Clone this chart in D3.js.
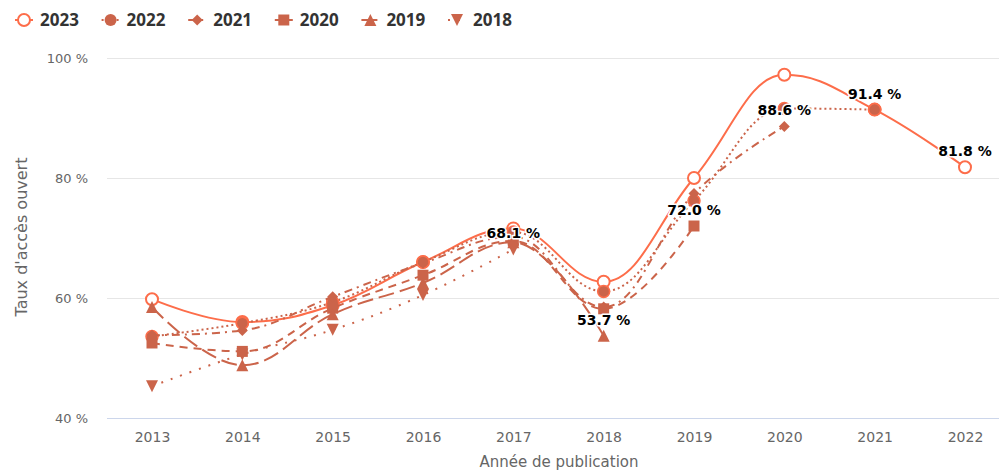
<!DOCTYPE html>
<html>
<head>
<meta charset="utf-8">
<script src="https://cdn.jsdelivr.net/npm/d3@7"></script>
<style>
  body { margin: 0; background: #fff; }
  svg { display: block; font-family: "DejaVu Sans", sans-serif; }
</style>
</head>
<body>
<script>
// set the dimensions and margins of the chart
var width = 999
var height = 473
var margin = { top: 58, left: 107, right: 0, bottom: 55 }

const years = [2013, 2014, 2015, 2016, 2017, 2018, 2019, 2020, 2021, 2022]
const yTicks = [40, 60, 80, 100]
const seriesNames = ['2023', '2022', '2021', '2020', '2019', '2018']

// open access rate (%) per publication year, one array per observation year
const s2023 = [59.8, 56.0, 58.8, 66.0, 71.6, 62.7, 80.0, 97.2, 91.4, 81.8]
const s2022 = [53.6, 55.8, 59.3, 66.0, 71.0, 61.1, 76.2, 91.6, 91.4]
const s2021 = [53.8, 54.6, 60.2, 65.8, 70.2, 58.5, 77.4, 88.6]
const s2020 = [52.5, 51.1, 58.3, 63.8, 69.5, 58.2, 72.0]
const s2019 = [58.5, 48.8, 57.3, 62.5, 69.3, 53.7]
const s2018 = [45.3, 50.6, 54.7, 60.5, 68.1]

const values = [s2023, s2022, s2021, s2020, s2019, s2018]
const colors = ['#fd6d4a', '#cb644a', '#cb644a', '#cb644a', '#cb644a', '#cb644a']
const dashes = ['none', '2,3', '8,5,2,5', '8,6', '16,6', '2,8']
const symbols = ['open', 'circle', 'diamond', 'square', 'triangle', 'triangle-down']

var svg = d3.select("body").append("svg")
    .attr("width", width)
    .attr("height", height);

var xScale = d3.scalePoint()
    .domain(years)
    .range([152, 965]);

var yScale = d3.scaleLinear()
    .domain([40, 100])
    .range([height - margin.bottom - 0, margin.top]);

// spline like the one Highcharts draws (smoothing 1.5, flat at extremes)
function hcSpline(context) {
    return {
        areaStart: function () {},
        areaEnd: function () {},
        lineStart: function () { this._p = []; },
        point: function (x, y) { this._p.push([+x, +y]); },
        lineEnd: function () {
            var p = this._p, n = p.length, lc = [], rc = [];
            var sm = 1.5, den = sm + 1;
            for (var i = 0; i < n; i++) {
                lc[i] = p[i].slice(); rc[i] = p[i].slice();
                if (i === 0 || i === n - 1) continue;
                var lx = p[i - 1][0], ly = p[i - 1][1], nx = p[i + 1][0], ny = p[i + 1][1];
                var px = p[i][0], py = p[i][1];
                var lcx = (sm * px + lx) / den, lcy = (sm * py + ly) / den;
                var rcx = (sm * px + nx) / den, rcy = (sm * py + ny) / den;
                if (rcx !== lcx) {
                    var corr = ((rcy - lcy) * (rcx - px)) / (rcx - lcx) + py - rcy;
                    lcy += corr; rcy += corr;
                }
                if (lcy > ly && lcy > py) { lcy = Math.max(ly, py); rcy = 2 * py - lcy; }
                else if (lcy < ly && lcy < py) { lcy = Math.min(ly, py); rcy = 2 * py - lcy; }
                if (rcy > ny && rcy > py) { rcy = Math.max(ny, py); lcy = 2 * py - rcy; }
                else if (rcy < ny && rcy < py) { rcy = Math.min(ny, py); lcy = 2 * py - rcy; }
                lc[i] = [lcx, lcy]; rc[i] = [rcx, rcy];
            }
            if (!n) return;
            context.moveTo(p[0][0], p[0][1]);
            for (var j = 1; j < n; j++) {
                context.bezierCurveTo(rc[j - 1][0], rc[j - 1][1], lc[j][0], lc[j][1], p[j][0], p[j][1]);
            }
        }
    };
}

function symbolPath(type, r) {
    var p = d3.path();
    if (type === 'open' || type === 'circle') {
        p.arc(0, 0, r, 0, 2 * Math.PI);
    } else if (type === 'square') {
        p.rect(-r, -r, 2 * r, 2 * r);
    } else if (type === 'diamond') {
        p.moveTo(0, -r); p.lineTo(r, 0); p.lineTo(0, r); p.lineTo(-r, 0); p.closePath();
    } else if (type === 'triangle') {
        p.moveTo(0, -r); p.lineTo(r, r); p.lineTo(-r, r); p.closePath();
    } else {
        p.moveTo(-r, -r); p.lineTo(r, -r); p.lineTo(0, r); p.closePath();
    }
    return p.toString();
}

function markerRadius(type) {
    if (type === 'diamond') return 5.5;
    if (type === 'square') return 5.5;
    return 6;
}

function renderGrid() {
    svg.append("g")
        .selectAll("line")
        .data(yTicks.slice(1))
        .enter()
        .append("line")
        .attr("x1", margin.left)
        .attr("x2", width)
        .attr("y1", d => yScale(d) + 0.5)
        .attr("y2", d => yScale(d) + 0.5)
        .style("stroke", "#e6e6e6");
}

function renderYAxis() {
    var yAxis = d3.axisLeft(yScale)
        .tickValues(yTicks)
        .tickSize(0)
        .tickPadding(0)
        .tickFormat(d => d + " %");

    var g = svg.append("g")
        .attr("class", "y-axis")
        .attr("transform", "translate(88,0)")
        .call(yAxis);
    g.select(".domain").remove();
    g.selectAll("text")
        .style("font-size", "13px")
        .style("fill", "#666666")
        .style("font-family", "DejaVu Sans");

    svg.append("text")
        .attr("transform", "translate(27," + 237 + ") rotate(-90)")
        .attr("text-anchor", "middle")
        .style("font-size", "16px")
        .style("fill", "#666666")
        .text("Taux d'accès ouvert");
}

function renderXAxis() {
    var xAxis = d3.axisBottom(xScale)
        .tickSize(0)
        .tickPadding(14);

    var g = svg.append("g")
        .attr("class", "x-axis")
        .attr("transform", "translate(0," + yScale(40) + ")")
        .call(xAxis);
    g.select(".domain")
        .attr("d", "M" + margin.left + ",0.5H" + width)
        .style("stroke", "#ccd6eb");
    g.selectAll("text")
        .style("font-size", "14px")
        .style("fill", "#666666")
        .style("font-family", "DejaVu Sans");

    svg.append("text")
        .attr("x", 559)
        .attr("y", 467)
        .attr("text-anchor", "middle")
        .style("font-size", "15px")
        .style("fill", "#666666")
        .text("Année de publication");
}

function renderSeries() {
    var line = d3.line()
        .x((d, i) => xScale(years[i]))
        .y(d => yScale(d))
        .curve(hcSpline);

    values.forEach(function (vals, k) {
        var g = svg.append("g").attr("class", "series-" + seriesNames[k]);
        g.append("path")
            .datum(vals)
            .attr("d", line)
            .style("fill", "none")
            .style("stroke", colors[k])
            .style("stroke-width", 2)
            .style("stroke-dasharray", dashes[k]);

        var type = symbols[k];
        g.selectAll(".marker")
            .data(vals)
            .enter()
            .append("path")
            .attr("class", "marker")
            .attr("transform", (d, i) => "translate(" + xScale(years[i]) + "," + yScale(d) + ")")
            .attr("d", symbolPath(type, markerRadius(type)))
            .style("fill", type === 'open' ? "#ffffff" : colors[k])
            .style("stroke", type === 'open' || type === 'circle' ? colors[0] : "none")
            .style("stroke-width", type === 'open' ? 2 : (type === 'circle' ? 1.5 : 0));
    });
}

function renderLabels() {
    values.forEach(function (vals, k) {
        var i = vals.length - 1;
        svg.append("text")
            .attr("x", xScale(years[i]))
            .attr("y", yScale(vals[i]) - 11)
            .attr("text-anchor", "middle")
            .style("font-size", "14px")
            .style("font-weight", "bold")
            .style("fill", "#000000")
            .style("stroke", "#ffffff")
            .style("stroke-width", 3)
            .style("stroke-linejoin", "round")
            .style("paint-order", "stroke")
            .text(vals[i].toFixed(1) + " %");
    });
}

function renderLegend() {
    var item = svg.append("g")
        .selectAll("g")
        .data(seriesNames)
        .enter()
        .append("g")
        .attr("transform", (d, i) => "translate(" + (24 + i * 86.6) + ",20)");

    item.append("line")
        .attr("x1", -9).attr("x2", 9)
        .style("stroke", (d, i) => colors[i])
        .style("stroke-width", 2)
        .style("stroke-dasharray", (d, i) => dashes[i]);

    item.append("path")
        .attr("d", (d, i) => symbolPath(symbols[i], markerRadius(symbols[i])))
        .style("fill", (d, i) => symbols[i] === 'open' ? "#ffffff" : colors[i])
        .style("stroke", (d, i) => symbols[i] === 'open' ? colors[i] : "none")
        .style("stroke-width", 2);

    item.append("text")
        .attr("x", 16)
        .attr("dy", "0.35em")
        .style("font-size", "17px")
        .style("font-weight", "bold")
        .style("fill", "#333333")
        .style("font-family", "Open Sans")
        .text(d => d);
}

renderGrid();
renderYAxis();
renderXAxis();
renderSeries();
renderLabels();
renderLegend();
</script>
</body>
</html>
